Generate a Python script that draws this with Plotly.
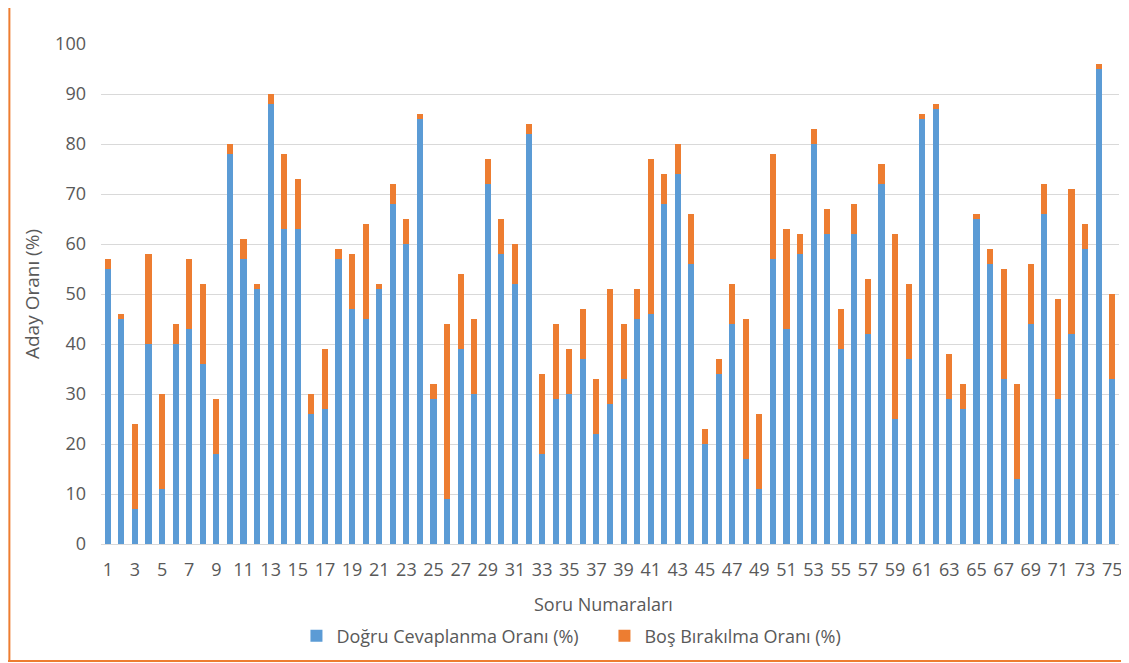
import plotly.graph_objects as go

soru = list(range(1, 76))

dogru = [55, 45, 7, 40, 11, 40, 43, 36, 18, 78,
         57, 51, 88, 63, 63, 26, 27, 57, 47, 45,
         51, 68, 60, 85, 29, 9, 39, 30, 72, 58,
         52, 82, 18, 29, 30, 37, 22, 28, 33, 45,
         46, 68, 74, 56, 20, 34, 44, 17, 11, 57,
         43, 58, 80, 62, 39, 62, 42, 72, 25, 37,
         85, 87, 29, 27, 65, 56, 33, 13, 44, 66,
         29, 42, 59, 95, 33]

toplam = [57, 46, 24, 58, 30, 44, 57, 52, 29, 80,
          61, 52, 90, 78, 73, 30, 39, 59, 58, 64,
          52, 72, 65, 86, 32, 44, 54, 45, 77, 65,
          60, 84, 34, 44, 39, 47, 33, 51, 44, 51,
          77, 74, 80, 66, 23, 37, 52, 45, 26, 78,
          63, 62, 83, 67, 47, 68, 53, 76, 62, 52,
          86, 88, 38, 32, 66, 59, 55, 32, 56, 72,
          49, 71, 64, 96, 50]

bos = [t - d for t, d in zip(toplam, dogru)]

x_ticks = list(range(1, 76, 2))
y_ticks = list(range(0, 101, 10))

gray = '#595959'
font = 'Open Sans'

fig = go.Figure()
fig.add_trace(go.Bar(x=soru, y=dogru, name='Doğru Cevaplanma Oranı (%)',
                     marker=dict(color='#5B9BD5', line=dict(width=0))))
fig.add_trace(go.Bar(x=soru, y=bos, name='Boş Bırakılma Oranı (%)',
                     marker=dict(color='#ED7D31', line=dict(width=0))))

# the page body adds an 8px margin, so the figure is sized a bit smaller
fig.update_layout(
    barmode='stack',
    bargap=0.55,
    width=1121, height=655,
    margin=dict(l=93, r=7, t=36, b=119),
    paper_bgcolor='white', plot_bgcolor='white',
    font=dict(family=font, size=18, color=gray),
    legend=dict(orientation='h', x=0.192, y=-0.184, xanchor='left', yanchor='middle',
                font=dict(size=18, color=gray), itemwidth=30, entrywidth=263,
                traceorder='normal'),
    annotations=[dict(text='Soru Numaraları', xref='paper', yref='paper',
                      x=0.494, y=-0.12, xanchor='center', yanchor='middle',
                      showarrow=False, font=dict(size=18, color=gray))],
    shapes=[
        dict(type='line', xref='paper', yref='paper', x0=-0.090, x1=-0.090, y0=-0.236, y1=1.2,
             line=dict(color='#ED7D31', width=2)),
        dict(type='line', xref='paper', yref='paper', x0=-0.092, x1=1.02, y0=-0.234, y1=-0.234,
             line=dict(color='#ED7D31', width=2)),
    ],
)
fig.update_xaxes(range=[0.5, 75.5], tickmode='array', tickvals=x_ticks,
                 ticktext=[str(v) for v in x_ticks], showgrid=False,
                 showline=True, linecolor='#D9D9D9', linewidth=1, ticks='',
                 tickangle=0, ticklabelstandoff=9, tickfont=dict(size=18, color=gray))
fig.update_yaxes(range=[0, 100], tickmode='array', tickvals=y_ticks,
                 showgrid=True, gridcolor='#D9D9D9', gridwidth=1, zeroline=False,
                 ticks='', ticklabelstandoff=14, tickfont=dict(size=18, color=gray),
                 title=dict(text='Aday Oranı (%)', standoff=10, font=dict(size=19, color=gray)))

fig.write_html("out.html")
